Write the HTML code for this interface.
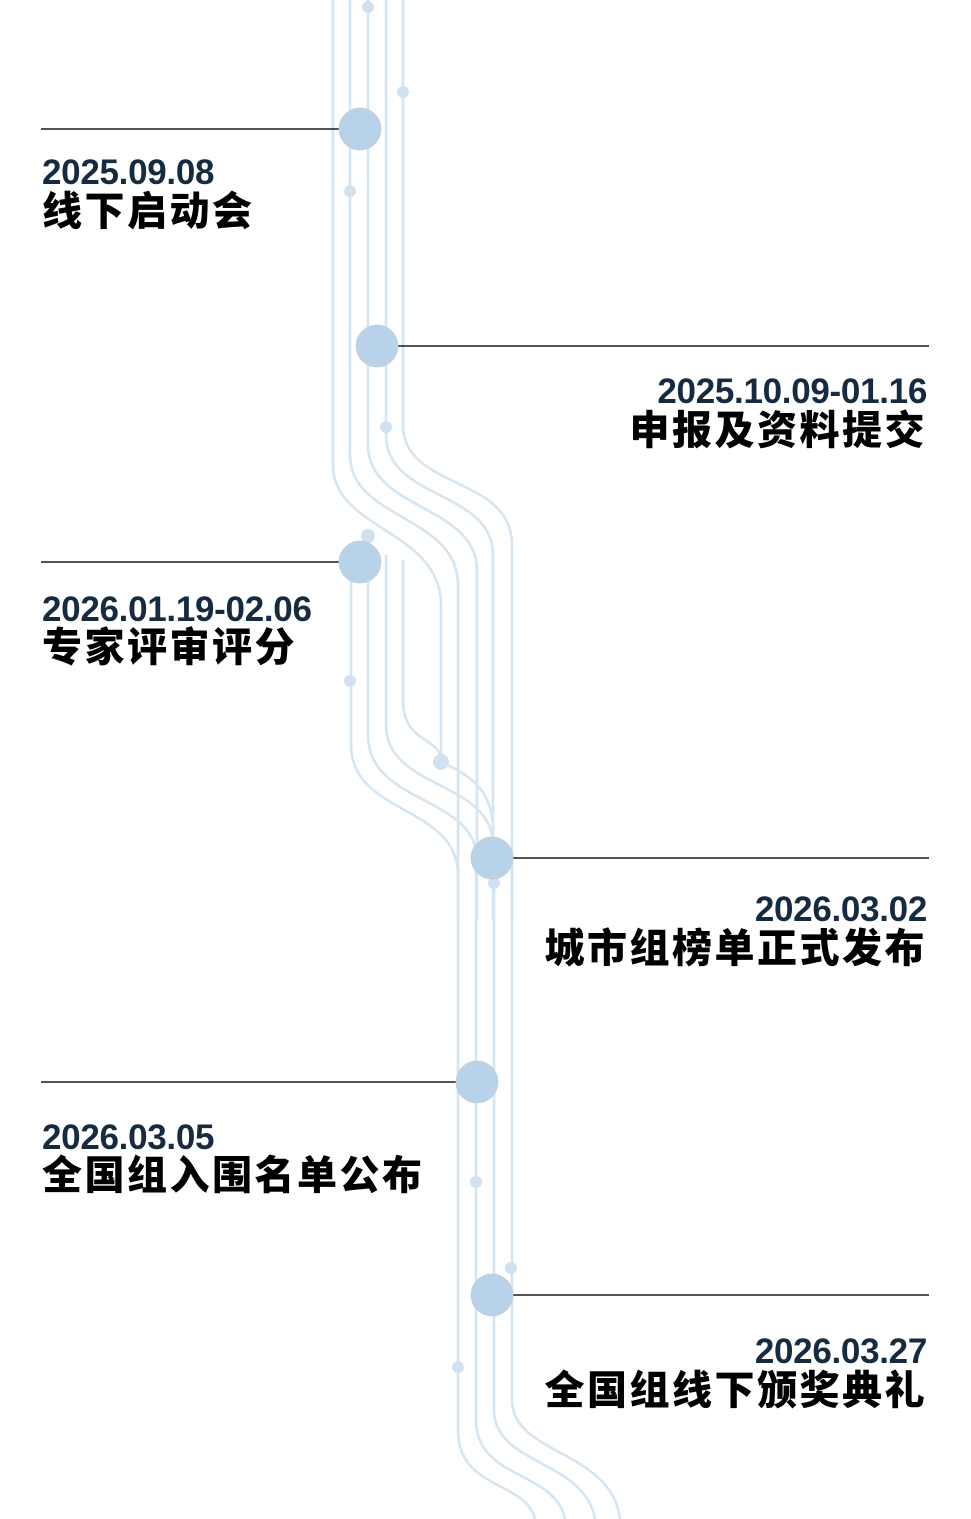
<!DOCTYPE html>
<html><head><meta charset="utf-8"><style>
html,body{margin:0;padding:0;background:#fff;}
body{width:971px;height:1519px;position:relative;overflow:hidden;}
svg{position:absolute;left:0;top:0;}
.d{position:absolute;font-family:"Liberation Sans",sans-serif;font-weight:bold;font-size:35px;line-height:40px;color:#172b40;letter-spacing:-0.3px;white-space:nowrap;}
.c{position:absolute;font-family:"Liberation Sans","Noto Sans CJK SC",sans-serif;font-weight:900;font-size:40px;line-height:44px;color:#000;letter-spacing:2.5px;white-space:nowrap;}
.r{text-align:right;right:44px;}
.l{left:42px;}
</style></head><body>
<svg width="971" height="1519" viewBox="0 0 971 1519">
<g fill="none" stroke="#d5e5f2" stroke-width="2.6">
<path d="M333 0 V465 C333 530 441 530 441 605 V762"/>
<path d="M350 0 V455 C350 520 458 515 458 585 V920"/>
<path d="M368 0 V445 C368 510 477 505 477 570 V920"/>
<path d="M386 0 V435 C386 500 493 490 493 555 V920"/>
<path d="M403 0 V425 C403 490 512 475 512 545 V920"/>
<path d="M351 545 V745 C351 815 458 805 458 875"/>
<path d="M368 545 V735 C368 805 477 795 477 860"/>
<path d="M386 555 V725 C386 790 493 780 493 845"/>
<path d="M403 560 V700 C403 745 441 735 441 762 C470 775 493 790 493 830"/>
<path d="M458 850 V1430 C458 1490 525 1480 535 1519"/>
<path d="M476 850 V1420 C476 1480 555 1470 565 1519"/>
<path d="M494 850 V1410 C494 1465 585 1460 595 1519"/>
<path d="M512 850 V1400 C512 1455 612 1450 620 1519"/>
</g>
<g fill="#d0e2f1">
<circle cx="368" cy="7" r="6"/><circle cx="403" cy="92" r="6"/><circle cx="350" cy="191" r="6"/>
<circle cx="386" cy="427" r="6"/><circle cx="368" cy="536" r="7"/><circle cx="350" cy="681" r="6"/>
<circle cx="441" cy="762" r="8"/><circle cx="494" cy="883" r="6"/><circle cx="476" cy="1182" r="6"/>
<circle cx="511" cy="1268" r="6"/><circle cx="458" cy="1367" r="6"/>
</g>
<g stroke="#1a1a1a" stroke-width="1.5">
<line x1="41" y1="129" x2="340" y2="129"/>
<line x1="398" y1="346" x2="929" y2="346"/>
<line x1="41" y1="562" x2="340" y2="562"/>
<line x1="512" y1="858" x2="929" y2="858"/>
<line x1="41" y1="1082" x2="457" y2="1082"/>
<line x1="512" y1="1295" x2="929" y2="1295"/>
</g>
<g fill="#b8d2ea" stroke="#c8ccd2" stroke-width="0.8">
<circle cx="360" cy="129" r="21"/><circle cx="377" cy="346" r="21"/><circle cx="360" cy="562" r="21"/>
<circle cx="492" cy="858" r="21"/><circle cx="477" cy="1082" r="21"/><circle cx="492" cy="1295" r="21"/>
</g>
</svg>
<div class="d l" style="top:153px">2025.09.08</div>
<div class="c l" style="top:190px">线下启动会</div>
<div class="d r" style="top:372px">2025.10.09-01.16</div>
<div class="c r" style="top:409px">申报及资料提交</div>
<div class="d l" style="top:590px">2026.01.19-02.06</div>
<div class="c l" style="top:626px">专家评审评分</div>
<div class="d r" style="top:890px">2026.03.02</div>
<div class="c r" style="top:927px">城市组榜单正式发布</div>
<div class="d l" style="top:1118px">2026.03.05</div>
<div class="c l" style="top:1154px">全国组入围名单公布</div>
<div class="d r" style="top:1332px">2026.03.27</div>
<div class="c r" style="top:1369px">全国组线下颁奖典礼</div>
</body></html>
